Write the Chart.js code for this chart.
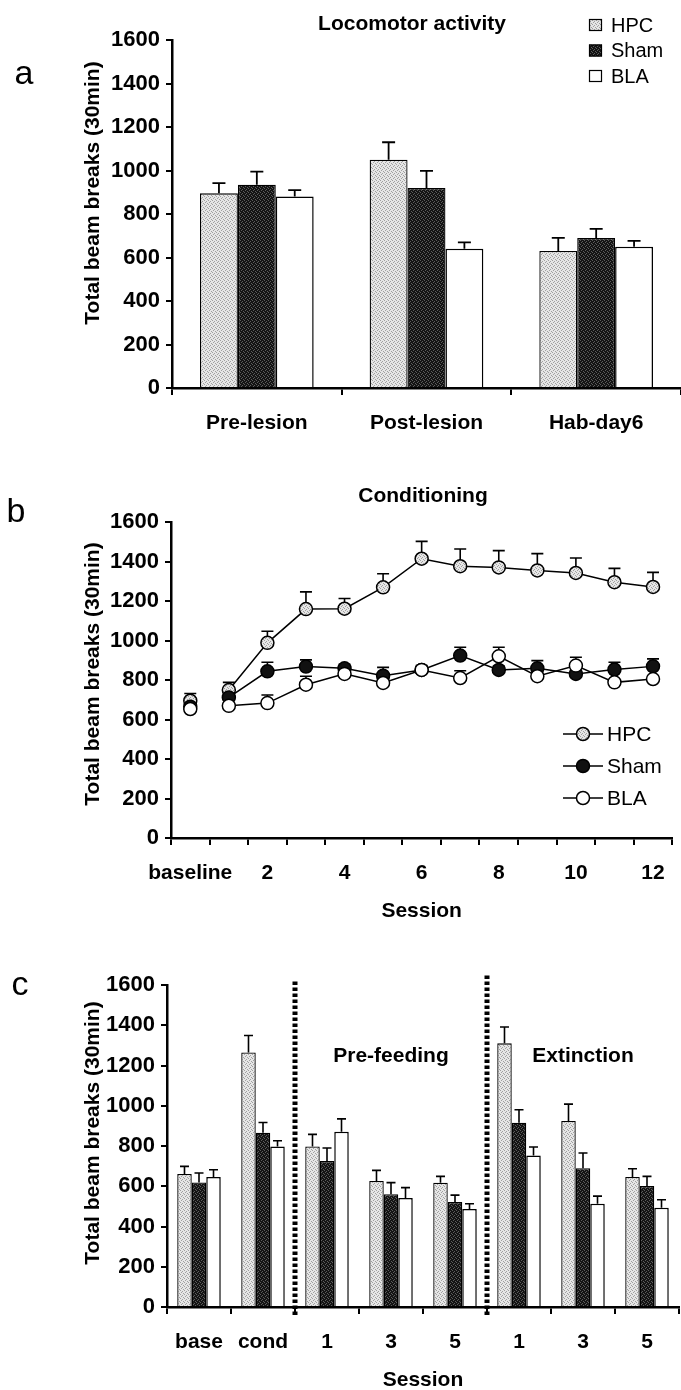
<!DOCTYPE html>
<html lang="en">
<head>
  <meta charset="UTF-8">
  <title>Locomotor activity</title>
  <script src="https://cdn.jsdelivr.net/npm/chart.js"></script>
  <style>
    body { margin: 0; background: #fff; }
    #wrap { position: relative; width: 681px; height: 1390px; font-family: 'Liberation Sans', Arial, sans-serif; color: #000; }
    #wrap canvas { position: absolute; left: 0; }
    .lbl { position: absolute; transform: translate(-50%, -50%); white-space: nowrap; line-height: 1; }
    .bold { font-weight: bold; font-size: 21px; }
    .letter { font-size: 34px; }
    .ytitle { transform: translate(-50%, -50%) rotate(-90deg); }
  </style>
</head>
<body>
  <div id="wrap">
    <canvas id="chart-a" width="681" height="460" style="top:0"></canvas>
    <canvas id="chart-b" width="681" height="470" style="top:460px"></canvas>
    <canvas id="chart-c" width="681" height="460" style="top:930px"></canvas>

    <!-- panel letters and titles -->
    <div class="lbl letter" style="left:24px; top:72px">a</div>
    <div class="lbl letter" style="left:16px; top:510px">b</div>
    <div class="lbl letter" style="left:20px; top:983px">c</div>
    <div class="lbl bold" style="left:412px; top:22px">Locomotor activity</div>
    <div class="lbl bold" style="left:423px; top:494px">Conditioning</div>
    <div class="lbl bold" style="left:391px; top:1054px">Pre-feeding</div>
    <div class="lbl bold" style="left:583px; top:1054px">Extinction</div>
    <div class="lbl bold ytitle" style="left:91px; top:193px">Total beam breaks (30min)</div>
    <div class="lbl bold ytitle" style="left:91px; top:674px">Total beam breaks (30min)</div>
    <div class="lbl bold ytitle" style="left:91px; top:1133px">Total beam breaks (30min)</div>
  </div>

  <script>
    const FONT = "'Liberation Sans', Arial, sans-serif";

    // a: locomotor activity
    const locoCats = ['Pre-lesion', 'Post-lesion', 'Hab-day6'];
    const locoHPC = [895, 1050, 630];
    const locoHPCErr = [47, 80, 60];
    const locoSham = [935, 920, 690];
    const locoShamErr = [60, 78, 42];
    const locoBLA = [880, 640, 650];
    const locoBLAErr = [30, 30, 26];

    // b: conditioning sessions
    const condSessions = ['baseline', '1', '2', '3', '4', '5', '6', '7', '8', '9', '10', '11', '12'];
    const condHPC = [695, 749, 988, 1159, 1161, 1269, 1414, 1376, 1370, 1355, 1342, 1295, 1271];
    const condHPCErr = [37, 39, 59, 87, 52, 69, 88, 87, 85, 85, 76, 70, 74];
    const condSham = [665, 712, 844, 868, 859, 822, 851, 924, 851, 859, 831, 853, 869];
    const condShamErr = [20, 20, 46, 34, 20, 42, 22, 42, 20, 39, 20, 37, 38];
    const condBLA = [653, 669, 683, 776, 831, 785, 851, 810, 920, 819, 873, 788, 805];
    const condBLAErr = [20, 15, 41, 43, 15, 15, 15, 37, 46, 15, 42, 15, 15];

    // c: pre-feeding and extinction
    const testCats = ['base', 'cond', '1', '3', '5', '1', '3', '5'];
    const testHPC = [661, 1265, 798, 626, 618, 1310, 924, 646];
    const testHPCErr = [38, 84, 60, 53, 31, 81, 84, 41];
    const testSham = [619, 866, 725, 560, 522, 916, 690, 601];
    const testShamErr = [47, 51, 65, 58, 34, 64, 75, 48];
    const testBLA = [646, 798, 871, 541, 487, 753, 513, 493];
    const testBLAErr = [36, 28, 64, 52, 26, 42, 38, 40];
    const phaseBreaks = [1, 4]; // dashed line after these categories

    // stippled fills like the printed figure
    function stipple(base, dot) {
      const c = document.createElement('canvas');
      c.width = 4; c.height = 4;
      const g = c.getContext('2d');
      g.fillStyle = base; g.fillRect(0, 0, 4, 4);
      g.fillStyle = dot;
      g.fillRect(0, 0, 1, 1); g.fillRect(2, 1, 1, 1); g.fillRect(1, 2, 1, 1); g.fillRect(3, 3, 1, 1);
      return g.createPattern(c, 'repeat');
    }
    const hpcFill = stipple('#e6e6e6', '#a0a0a0');
    const shamFill = stipple('#141414', '#5c5c5c');

    // upward-only error bars, drawn under the markers
    const errorBars = {
      id: 'errorBars',
      beforeDatasetsDraw(chart, args, opts) {
        const { ctx } = chart;
        const y = chart.scales.y;
        ctx.save();
        ctx.strokeStyle = '#000';
        ctx.lineWidth = opts.width;
        chart.data.datasets.forEach((ds, i) => {
          if (!ds.errors) return;
          chart.getDatasetMeta(i).data.forEach((el, j) => {
            const top = y.getPixelForValue(ds.data[j] + ds.errors[j]);
            ctx.beginPath();
            ctx.moveTo(el.x, el.y);
            ctx.lineTo(el.x, top);
            ctx.moveTo(el.x - opts.cap / 2, top);
            ctx.lineTo(el.x + opts.cap / 2, top);
            ctx.stroke();
          });
        });
        ctx.restore();
      }
    };

    // small legend drawn from the dataset styles
    const groupLegend = {
      id: 'groupLegend',
      afterDraw(chart, args, opts) {
        const { ctx } = chart;
        ctx.save();
        ctx.font = opts.size + 'px ' + FONT;
        ctx.textBaseline = 'middle';
        ctx.strokeStyle = '#000';
        chart.data.datasets.forEach((ds, i) => {
          const yy = opts.y + i * opts.gap;
          ctx.lineWidth = 1.2;
          if (opts.kind === 'box') {
            ctx.fillStyle = ds.backgroundColor;
            ctx.fillRect(opts.x, yy - 6, 13, 12);
            ctx.strokeRect(opts.x + 0.5, yy - 5.5, 12, 11);
          } else {
            ctx.lineWidth = 1.5;
            ctx.beginPath();
            ctx.moveTo(opts.x, yy); ctx.lineTo(opts.x + 40, yy);
            ctx.stroke();
            ctx.beginPath();
            ctx.arc(opts.x + 20, yy, 6.5, 0, Math.PI * 2);
            ctx.fillStyle = ds.pointBackgroundColor;
            ctx.fill(); ctx.stroke();
          }
          ctx.fillStyle = '#000';
          ctx.fillText(ds.label, opts.textX, yy + 1);
        });
        ctx.restore();
      }
    };

    // thick dashed separators between test phases
    const phaseLines = {
      id: 'phaseLines',
      afterDatasetsDraw(chart, args, opts) {
        const { ctx, scales: { x, y } } = chart;
        ctx.save();
        ctx.strokeStyle = '#000';
        ctx.lineWidth = 5;
        ctx.setLineDash([3.5, 2.5]);
        opts.after.forEach((idx, k) => {
          const px = (x.getPixelForValue(idx) + x.getPixelForValue(idx + 1)) / 2;
          ctx.beginPath();
          ctx.moveTo(px, y.bottom + 8);
          ctx.lineTo(px, y.top - opts.rise[k]);
          ctx.stroke();
        });
        ctx.restore();
      }
    };

    function yAxis(width) {
      return {
        min: 0, max: 1600,
        ticks: {
          stepSize: 200, color: '#000', padding: 6,
          font: { family: FONT, size: 22, weight: 'bold' },
          callback: v => String(v)
        },
        grid: { drawOnChartArea: false, color: '#000', lineWidth: 2, tickLength: 6 },
        border: { color: '#000', width: 2.5 },
        afterFit: s => { s.width = width; }
      };
    }

    function xAxis(height, title, titleBottom, evenOnly) {
      return {
        offset: true,
        ticks: {
          color: '#000', padding: 16, autoSkip: false, maxRotation: 0,
          font: { family: FONT, size: 21, weight: 'bold' },
          callback: function (v, i) {
            if (evenOnly && i > 0 && i % 2 === 1) return '';
            return this.getLabelForValue(v);
          }
        },
        grid: { offset: true, drawOnChartArea: false, color: '#000', lineWidth: 2, tickLength: 7 },
        border: { color: '#000', width: 2.5 },
        title: title
          ? { display: true, text: title, color: '#000', padding: { top: 0, bottom: titleBottom }, font: { family: FONT, size: 21, weight: 'bold' } }
          : { display: false },
        afterFit: s => { s.height = height; }
      };
    }

    const common = {
      responsive: false,
      animation: false,
      events: []
    };

    function barSets(h, he, s, se, b, be) {
      return [
        { label: 'HPC', data: h, errors: he, backgroundColor: hpcFill, borderColor: '#000', borderWidth: 1.3 },
        { label: 'Sham', data: s, errors: se, backgroundColor: shamFill, borderColor: '#000', borderWidth: 1.3 },
        { label: 'BLA', data: b, errors: be, backgroundColor: '#fff', borderColor: '#000', borderWidth: 1.5 }
      ];
    }

    // panel a
    new Chart(document.getElementById('chart-a'), {
      type: 'bar',
      data: { labels: locoCats, datasets: barSets(locoHPC, locoHPCErr, locoSham, locoShamErr, locoBLA, locoBLAErr) },
      options: {
        ...common,
        categoryPercentage: 0.67, barPercentage: 1.0,
        layout: { padding: { top: 40, left: 0, right: 0, bottom: 0 } },
        scales: { x: xAxis(72, null, 0, false), y: yAxis(172) },
        plugins: {
          legend: { display: false }, tooltip: { enabled: false },
          errorBars: { width: 1.8, cap: 13 },
          groupLegend: { kind: 'box', x: 589, textX: 611, y: 25, gap: 25.5, size: 20 }
        }
      },
      plugins: [errorBars, groupLegend]
    });

    // panel b
    const noBaselineLink = { borderColor: c => c.p0DataIndex === 0 ? 'rgba(0,0,0,0)' : '#000' };
    function lineSet(label, data, errors, fill, order) {
      return {
        label, data, errors, order,
        borderColor: '#000', borderWidth: 1.5,
        pointRadius: 6.5, pointBorderWidth: 1.5, pointBorderColor: '#000',
        pointBackgroundColor: fill, backgroundColor: fill,
        segment: noBaselineLink
      };
    }
    new Chart(document.getElementById('chart-b'), {
      type: 'line',
      data: {
        labels: condSessions,
        datasets: [
          lineSet('HPC', condHPC, condHPCErr, hpcFill, 2),
          lineSet('Sham', condSham, condShamErr, '#111', 1),
          lineSet('BLA', condBLA, condBLAErr, '#fff', 0)
        ]
      },
      options: {
        ...common,
        layout: { padding: { top: 62, left: 0, right: 0, bottom: 0 } },
        scales: { x: xAxis(92, 'Session', 6, true), y: yAxis(171) },
        plugins: {
          legend: { display: false }, tooltip: { enabled: false },
          errorBars: { width: 1.6, cap: 12 },
          groupLegend: { kind: 'line', x: 563, textX: 607, y: 274, gap: 32, size: 21 }
        }
      },
      plugins: [errorBars, groupLegend]
    });

    // panel c
    new Chart(document.getElementById('chart-c'), {
      type: 'bar',
      data: { labels: testCats, datasets: barSets(testHPC, testHPCErr, testSham, testShamErr, testBLA, testBLAErr) },
      options: {
        ...common,
        categoryPercentage: 0.68, barPercentage: 1.0,
        layout: { padding: { top: 55, left: 0, right: 2, bottom: 0 } },
        scales: { x: xAxis(83, 'Session', -3, false), y: yAxis(167) },
        plugins: {
          legend: { display: false }, tooltip: { enabled: false },
          errorBars: { width: 1.6, cap: 9 },
          phaseLines: { after: phaseBreaks, rise: [6, 12] }
        }
      },
      plugins: [errorBars, phaseLines]
    });
  </script>
</body>
</html>
